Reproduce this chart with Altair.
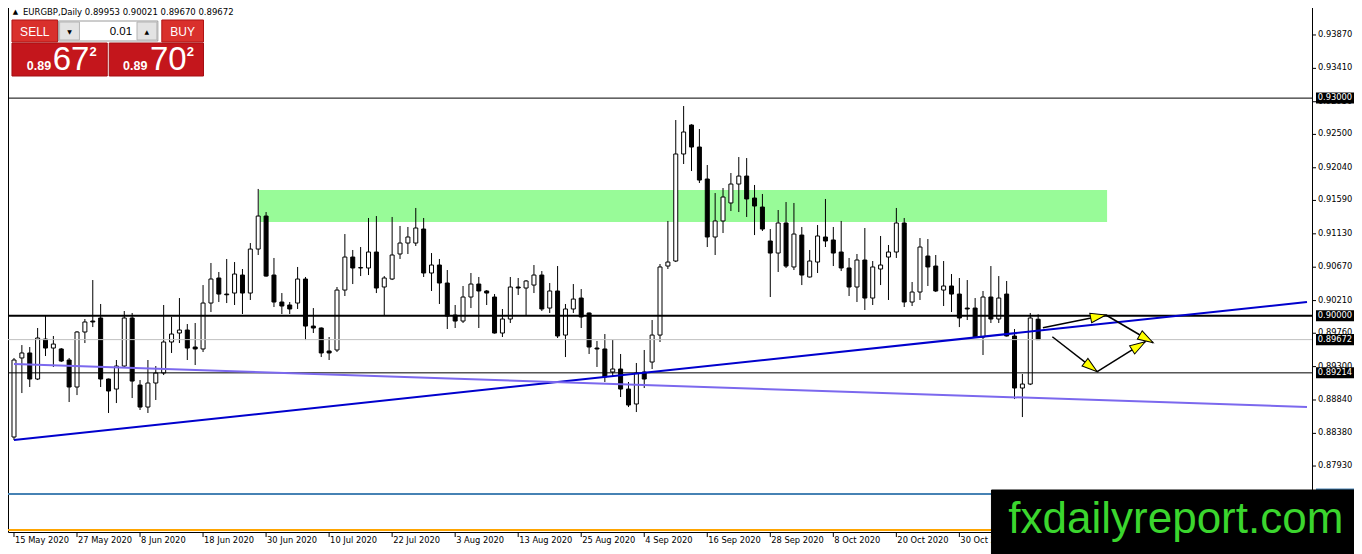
import math
import altair as alt
import pandas as pd

# ---------------- data ----------------
symbol = "EURGBP"
timeframe = "Daily"

opens = [0.88330, 0.89419, 0.89488, 0.89129, 0.89680, 0.89556, 0.89543, 0.89391, 0.89019, 0.89777,
         0.89928, 0.89970, 0.89129, 0.88991, 0.89308, 0.89970, 0.89046, 0.88743, 0.89074, 0.89212,
         0.89639, 0.89763, 0.89804, 0.89570, 0.89543, 0.90176, 0.90521, 0.90300, 0.90314, 0.90562,
         0.90314, 0.90920, 0.91375, 0.90562, 0.90190, 0.90149, 0.90176, 0.90507, 0.89859, 0.89832,
         0.89515, 0.89529, 0.90355, 0.90810, 0.90659, 0.90659, 0.90879, 0.90397, 0.90507, 0.90852,
         0.91003, 0.91003, 0.91196, 0.90590, 0.90700, 0.90452, 0.90011, 0.89928, 0.90259, 0.90438,
         0.90342, 0.90259, 0.89763, 0.89956, 0.90397, 0.90383, 0.90424, 0.90562, 0.90107, 0.90342,
         0.89735, 0.90094, 0.90245, 0.90039, 0.89556, 0.89543, 0.89226, 0.89267, 0.88991, 0.88785,
         0.89226, 0.89363, 0.89735, 0.90686, 0.90755, 0.92230, 0.92629, 0.92326, 0.91885, 0.91086,
         0.91307, 0.91555, 0.91816, 0.91926, 0.91623, 0.91499, 0.91031, 0.90865, 0.91279, 0.90673,
         0.91113, 0.90535, 0.90741, 0.91086, 0.91045, 0.90879, 0.90659, 0.90397, 0.90769, 0.90245,
         0.90645, 0.90810, 0.90879, 0.91279, 0.90190, 0.90328, 0.90824, 0.90686, 0.90355, 0.90411,
         0.90300, 0.90107, 0.90107, 0.89708, 0.90259, 0.89956, 0.90300, 0.89722, 0.89005, 0.89060,
         0.89953]
highs = [0.89419, 0.89597, 0.89570, 0.89832, 0.90011, 0.89722, 0.89556, 0.89419, 0.89790, 0.89956,
         0.90493, 0.90163, 0.89135, 0.89391, 0.90066, 0.90039, 0.89115, 0.89391, 0.89308, 0.90149,
         0.89984, 0.90245, 0.89887, 0.89901, 0.90424, 0.90728, 0.90604, 0.90783, 0.90741, 0.90645,
         0.91003, 0.91748, 0.91430, 0.90797, 0.90314, 0.90190, 0.90673, 0.90535, 0.90107, 0.89840,
         0.89708, 0.90397, 0.91127, 0.90907, 0.90948, 0.91348, 0.91375, 0.90548, 0.91362, 0.91238,
         0.91224, 0.91486, 0.91348, 0.90865, 0.90783, 0.90631, 0.90149, 0.90411, 0.90590, 0.90535,
         0.90355, 0.90300, 0.90094, 0.90535, 0.90521, 0.90493, 0.90700, 0.90617, 0.90452, 0.90686,
         0.90163, 0.90438, 0.90369, 0.90045, 0.89653, 0.89749, 0.89666, 0.89474, 0.89088, 0.89350,
         0.89529, 0.89942, 0.90714, 0.91307, 0.92698, 0.92891, 0.92640, 0.92574, 0.92078, 0.91692,
         0.91761, 0.91968, 0.92188, 0.92174, 0.91803, 0.91679, 0.91196, 0.91458, 0.91568, 0.91555,
         0.91224, 0.90907, 0.91251, 0.91610, 0.91224, 0.91307, 0.90797, 0.90852, 0.91210, 0.90755,
         0.91100, 0.90976, 0.91486, 0.91348, 0.90466, 0.91072, 0.91058, 0.90838, 0.90755, 0.90576,
         0.90521, 0.90493, 0.90245, 0.90342, 0.90686, 0.90548, 0.90480, 0.89818, 0.89198, 0.90039,
         0.90021]
lows = [0.88288, 0.88936, 0.89019, 0.89115, 0.89446, 0.89295, 0.89363, 0.88812, 0.88908, 0.89625,
        0.89845, 0.89019, 0.88661, 0.88798, 0.89295, 0.88867, 0.88702, 0.88661, 0.88840, 0.89184,
        0.89488, 0.89625, 0.89391, 0.89322, 0.89501, 0.90052, 0.90190, 0.90176, 0.90149, 0.90025,
        0.90218, 0.90838, 0.90540, 0.90121, 0.90025, 0.90025, 0.90094, 0.89666, 0.89763, 0.89432,
        0.89391, 0.89501, 0.90273, 0.90438, 0.90548, 0.90562, 0.90314, 0.90011, 0.90493, 0.90783,
        0.90852, 0.90962, 0.90535, 0.90342, 0.90163, 0.89818, 0.89832, 0.89901, 0.90107, 0.89832,
        0.90149, 0.89755, 0.89708, 0.89901, 0.90287, 0.90011, 0.90314, 0.90066, 0.90039, 0.89694,
        0.89432, 0.90039, 0.89832, 0.89474, 0.89295, 0.89088, 0.89157, 0.88881, 0.88743, 0.88674,
        0.89005, 0.89267, 0.89639, 0.90645, 0.90741, 0.92092, 0.91995, 0.91830, 0.90948, 0.90838,
        0.91141, 0.91444, 0.91430, 0.91362, 0.91113, 0.91169, 0.90259, 0.90604, 0.90659, 0.90631,
        0.90424, 0.90528, 0.90590, 0.90948, 0.90686, 0.90617, 0.90273, 0.90190, 0.90080, 0.90149,
        0.90424, 0.90218, 0.90797, 0.90121, 0.90135, 0.90218, 0.90411, 0.90328, 0.90135, 0.90052,
        0.89845, 0.89942, 0.89700, 0.89460, 0.89901, 0.89901, 0.89715, 0.88853, 0.88605, 0.89046,
        0.89670]
closes = [0.89391, 0.89488, 0.89129, 0.89694, 0.89556, 0.89611, 0.89377, 0.89019, 0.89777, 0.89915,
          0.89915, 0.89129, 0.88964, 0.89308, 0.89970, 0.89101, 0.88743, 0.89074, 0.89212, 0.89639,
          0.89749, 0.89804, 0.89556, 0.89543, 0.90176, 0.90507, 0.90300, 0.90290, 0.90576, 0.90314,
          0.90920, 0.91375, 0.90548, 0.90190, 0.90135, 0.90094, 0.90507, 0.89859, 0.89832, 0.89488,
          0.89488, 0.90355, 0.90810, 0.90659, 0.90665, 0.90879, 0.90383, 0.90521, 0.90838, 0.91003,
          0.91086, 0.91210, 0.90590, 0.90700, 0.90452, 0.89997, 0.89928, 0.90259, 0.90438, 0.90342,
          0.90314, 0.89763, 0.89956, 0.90397, 0.90383, 0.90480, 0.90562, 0.90094, 0.90342, 0.89722,
          0.90094, 0.90231, 0.89984, 0.89570, 0.89543, 0.89157, 0.89267, 0.88991, 0.88771, 0.89212,
          0.89129, 0.89735, 0.90673, 0.90741, 0.92230, 0.92533, 0.92326, 0.91871, 0.91086, 0.91307,
          0.91637, 0.91816, 0.91926, 0.91610, 0.91513, 0.91196, 0.90865, 0.91279, 0.90686, 0.91127,
          0.90562, 0.90755, 0.91100, 0.91031, 0.90865, 0.90659, 0.90397, 0.90769, 0.90245, 0.90673,
          0.90700, 0.90879, 0.91279, 0.90190, 0.90328, 0.90948, 0.90673, 0.90342, 0.90411, 0.90300,
          0.89970, 0.90094, 0.89708, 0.90259, 0.89956, 0.90245, 0.89722, 0.89005, 0.89060, 0.89970,
          0.89672]

date_labels = ["15 May 2020", "27 May 2020", "8 Jun 2020", "18 Jun 2020", "30 Jun 2020",
               "10 Jul 2020", "22 Jul 2020", "3 Aug 2020", "13 Aug 2020", "25 Aug 2020",
               "4 Sep 2020", "16 Sep 2020", "28 Sep 2020", "8 Oct 2020", "20 Oct 2020",
               "30 Oct 2020"]
bars_per_label = 8

price_ticks = [0.93870, 0.93410, 0.92950, 0.92500, 0.92040, 0.91590, 0.91130, 0.90670,
               0.90210, 0.89760, 0.89300, 0.88840, 0.88380, 0.87930]

level_prices = [0.93000, 0.90000, 0.89672, 0.89214, 0.87544, 0.87048]
level_colors = ["#000000", "#000000", "#C0C0C0", "#000000", "#4682B4", "#FFA500"]
level_widths = [1, 2, 1, 1, 2, 2]
boxed_levels = [0.93000, 0.90000, 0.89672, 0.89214]
hidden_box_level = [0.87544]

trend_i0 = [0, 0]
trend_p0 = [0.88288, 0.89336]
trend_i1 = [164.125, 164.125]
trend_p1 = [0.90190, 0.88743]
trend_colors = ["#0000CD", "#7B68EE"]

zone_i = [31.1, 138.75]
zone_p = [0.91293, 0.91734]

arrow_i0 = [130.6, 138.6, 131.8, 137.5]
arrow_p0 = [0.89836, 0.90011, 0.89712, 0.89230]
arrow_i1 = [138.6, 144.6, 137.5, 143.6]
arrow_p1 = [0.90011, 0.89629, 0.89230, 0.89643]

bid = "0.89672"
ask = "0.89702"
lot = "0.01"
watermark = "fxdailyreport.com"

# ---------------- layout ----------------
W, H = 1304, 532
X_DOMAIN = [-0.125, 164.125]
Y_DOMAIN = [0.87021, 0.94352]
SX = W / 1314.0


def px(x):
    return (x - 2) * SX


xs = alt.Scale(domain=X_DOMAIN, nice=False, zero=False)
ys = alt.Scale(domain=Y_DOMAIN, nice=False, zero=False)
AX_FONT = "DejaVu Sans"
AX_SIZE = 8.3
NOAX = None

candles = pd.DataFrame({
    "i": list(range(len(opens))),
    "open": opens, "high": highs, "low": lows, "close": closes,
})
candles["fill"] = ["white" if c >= o else "black" for o, c in zip(opens, closes)]

X = lambda f: alt.X(f, scale=xs, axis=NOAX)
Y = lambda f: alt.Y(f, scale=ys, axis=NOAX)

# manual axes
xt = pd.DataFrame({"i": [k * bars_per_label for k in range(len(date_labels))], "label": date_labels})
x_ticks = alt.Chart(xt).mark_rule(color="black", strokeWidth=1).encode(
    x=X("i:Q"), y=alt.value(H), y2=alt.value(H + 5))
x_labels = alt.Chart(xt).mark_text(
    align="left", baseline="top", dx=1, font=AX_FONT, fontSize=AX_SIZE, color="black").encode(
    x=X("i:Q"), y=alt.value(H + 4), text="label:N")

yt = pd.DataFrame({"p": price_ticks})
y_ticks = alt.Chart(yt).mark_rule(color="black", strokeWidth=1).encode(
    y=Y("p:Q"), x=alt.value(W), x2=alt.value(W + 4))
y_labels = alt.Chart(yt).mark_text(
    align="left", baseline="middle", font=AX_FONT, fontSize=AX_SIZE, color="black").encode(
    y=Y("p:Q"), x=alt.value(W + 6), text=alt.Text("p:Q", format=".5f"))

zone = alt.Chart(pd.DataFrame({"i0": [zone_i[0]], "i1": [zone_i[1]],
                               "p0": [zone_p[0]], "p1": [zone_p[1]]})).mark_rect(
    color="#98FB98").encode(x=X("i0:Q"), x2="i1:Q", y=Y("p0:Q"), y2="p1:Q")

wicks = alt.Chart(candles).mark_rule(color="black", strokeWidth=1).encode(
    x=X("i:Q"), y=Y("low:Q"), y2="high:Q")

bodies = alt.Chart(candles).mark_bar(size=4, stroke="black", strokeWidth=1).encode(
    x=X("i:Q"), y=Y("open:Q"), y2="close:Q", fill=alt.Fill("fill:N", scale=None))

levels = alt.Chart(pd.DataFrame({"p": level_prices, "c": level_colors, "w": level_widths})).mark_rule().encode(
    y=Y("p:Q"), color=alt.Color("c:N", scale=None),
    strokeWidth=alt.StrokeWidth("w:Q", scale=None))

trends = alt.Chart(pd.DataFrame({"i0": trend_i0, "i1": trend_i1, "p0": trend_p0,
                                 "p1": trend_p1, "c": trend_colors})).mark_rule(strokeWidth=2).encode(
    x=X("i0:Q"), x2="i1:Q", y=Y("p0:Q"), y2="p1:Q", color=alt.Color("c:N", scale=None))

arrows_df = pd.DataFrame({"i0": arrow_i0, "i1": arrow_i1, "p0": arrow_p0, "p1": arrow_p1})
ppi = W / (X_DOMAIN[1] - X_DOMAIN[0])
ppp = H / (Y_DOMAIN[1] - Y_DOMAIN[0])
arrows_df["ang"] = [
    math.degrees(math.atan2(-(b - a) * ppp, (d - c) * ppi)) % 360
    for a, b, c, d in zip(arrows_df["p0"], arrows_df["p1"], arrows_df["i0"], arrows_df["i1"])
]

arrow_lines = alt.Chart(arrows_df).mark_rule(color="black", strokeWidth=1.5).encode(
    x=X("i0:Q"), x2="i1:Q", y=Y("p0:Q"), y2="p1:Q")

arrow_heads = alt.Chart(arrows_df).mark_point(
    shape="M0,0L-2,-0.62L-2,0.62Z", filled=True, fill="#FFFF00", stroke="black",
    strokeWidth=1, size=240, opacity=1).encode(
    x=X("i1:Q"), y=Y("p1:Q"), angle=alt.Angle("ang:Q", scale=None))

box_cx = W + 23
BOX_SHAPE = "M-1,-0.29L1,-0.29L1,0.29L-1,0.29Z"
boxes_df = pd.DataFrame({"p": boxed_levels})
label_boxes = alt.Chart(boxes_df).mark_point(
    shape=BOX_SHAPE, filled=True, fill="black",
    strokeWidth=0, size=38 * 38, opacity=1).encode(
    x=alt.value(box_cx), y=Y("p:Q"))
label_texts = alt.Chart(boxes_df).mark_text(
    align="center", baseline="middle", font=AX_FONT, fontSize=AX_SIZE, color="white").encode(
    x=alt.value(box_cx), y=Y("p:Q"), text=alt.Text("p:Q", format=".5f"))
blue_box = alt.Chart(pd.DataFrame({"p": hidden_box_level})).mark_point(
    shape=BOX_SHAPE, filled=True, fill="#4682B4",
    strokeWidth=0, size=38 * 38, opacity=1).encode(
    x=alt.value(box_cx), y=Y("p:Q"))

# ---------------- terminal decorations ----------------
HDR = "#D9302C"
BLK = "#C4161C"
ui_rects = pd.DataFrame([
    # x, x2, y, y2, fill, stroke
    (6, 52, 20, 42, HDR, "#B01414"),
    (157, 199, 20, 42, HDR, "#B01414"),
    (6, 102, 43, 76, BLK, "#A50E12"),
    (104, 199, 43, 76, BLK, "#A50E12"),
    (53, 153, 21, 41, "#FFFFFF", "#9A9A9A"),
    (54, 74, 22, 40, "#E3E3E3", "#B4B4B4"),
    (132, 152, 22, 40, "#E3E3E3", "#B4B4B4"),
    (993, 1370, 490, 562, "#000000", "#000000"),
], columns=["x", "x2", "y", "y2", "fill", "stroke"])
for c in ["x", "x2"]:
    ui_rects[c] = ui_rects[c].map(px)

rect_layer = alt.Chart(ui_rects).mark_rect(strokeWidth=1).encode(
    x=alt.X("x:Q", scale=None, axis=None), x2="x2:Q",
    y=alt.Y("y:Q", scale=None, axis=None), y2="y2:Q",
    fill=alt.Fill("fill:N", scale=None), stroke=alt.Stroke("stroke:N", scale=None))

header = "%s,%s %.5f %.5f %.5f %.5f" % (symbol, timeframe, opens[-1], highs[-1], lows[-1], closes[-1])
SANS = "Liberation Sans, Arial, sans-serif"
ui_texts = [
    # text, x, y, size, color, font, weight, align, baseline
    ("\u25B2", 9.5, 12, 7, "black", AX_FONT, "normal", "center", "middle"),
    (header, 17, 12, 8.5, "black", AX_FONT, "normal", "left", "middle"),
    ("SELL", 29, 31.5, 12, "white", SANS, "normal", "center", "middle"),
    ("BUY", 178, 31.5, 12, "white", SANS, "normal", "center", "middle"),
    (lot, 127, 31.5, 11.5, "black", SANS, "normal", "right", "middle"),
    ("\u25BC", 64, 31.5, 6, "black", AX_FONT, "normal", "center", "middle"),
    ("\u25B2", 142, 31.5, 6, "black", AX_FONT, "normal", "center", "middle"),
    (bid[:4], 21, 70, 12.5, "white", SANS, "bold", "left", "alphabetic"),
    (bid[4:6], 47, 70, 33, "white", SANS, "normal", "left", "alphabetic"),
    (bid[6:], 84, 56, 13, "white", SANS, "bold", "left", "alphabetic"),
    (ask[:4], 118, 70, 12.5, "white", SANS, "bold", "left", "alphabetic"),
    (ask[4:6], 145, 70, 33, "white", SANS, "normal", "left", "alphabetic"),
    (ask[6:], 182, 56, 13, "white", SANS, "bold", "left", "alphabetic"),
    (watermark, 1010, 533, 44, "#3BD62E", SANS, "normal", "left", "alphabetic"),
]
tdf = pd.DataFrame(ui_texts, columns=["text", "x", "y", "fs", "color", "font", "weight", "align", "baseline"])
tdf["x"] = tdf["x"].map(px)

text_layers = []
for (font, weight, align, baseline), sub in tdf.groupby(["font", "weight", "align", "baseline"], sort=False):
    text_layers.append(
        alt.Chart(sub.drop(columns=["font", "weight", "align", "baseline"])).mark_text(
            font=font, fontWeight=weight, align=align, baseline=baseline).encode(
            x=alt.X("x:Q", scale=None, axis=None),
            y=alt.Y("y:Q", scale=None, axis=None),
            text="text:N",
            size=alt.Size("fs:Q", scale=None),
            color=alt.Color("color:N", scale=None)))

chart = alt.layer(
    x_ticks, x_labels, y_ticks, y_labels,
    zone, wicks, bodies, levels, trends, arrow_lines, arrow_heads,
    blue_box, label_boxes, label_texts, rect_layer, *text_layers
).properties(
    width=W, height=H,
    padding={"left": 0, "top": -8, "right": 42, "bottom": 22},
    autosize=alt.AutoSizeParams(type="none"),
    background="white",
).configure_view(
    stroke="black", strokeWidth=1
)

chart.save("out.html", embed_options={"renderer": "svg", "actions": False})
